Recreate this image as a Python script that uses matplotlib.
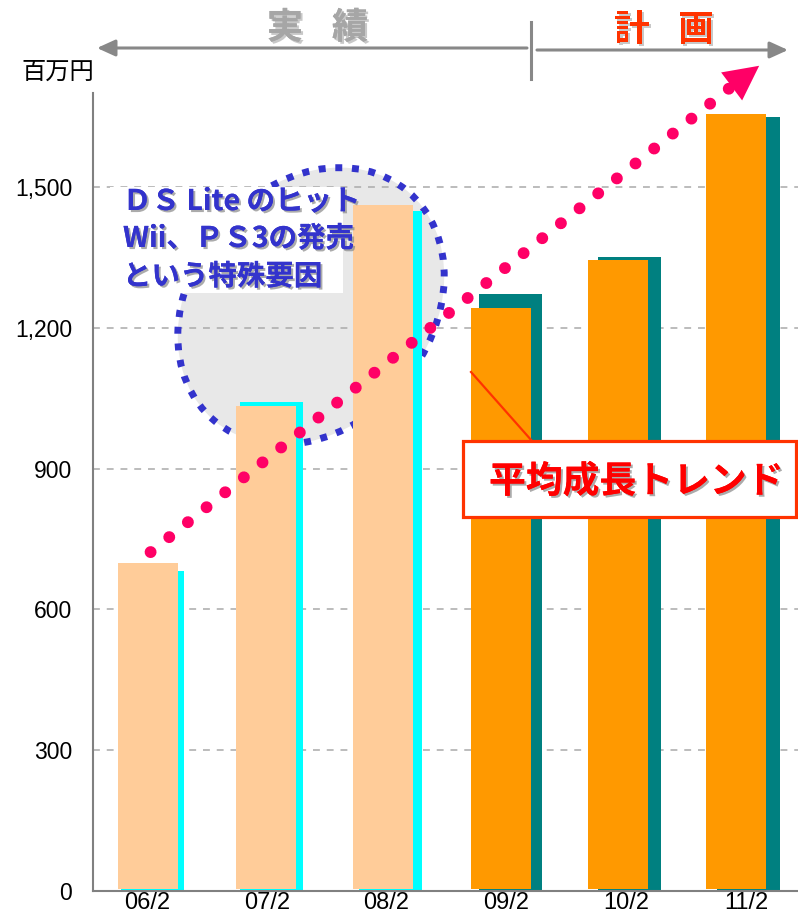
import matplotlib
matplotlib.use('Agg')
import matplotlib.pyplot as plt
import numpy as np
from matplotlib import patches, patheffects, font_manager as fm
from matplotlib.lines import Line2D
from matplotlib.transforms import IdentityTransform

# ---------------- data ----------------
categories = ['06/2', '07/2', '08/2', '09/2', '10/2', '11/2']
front_values = [699, 1034, 1462, 1242, 1345, 1656]
back_values = [682, 1042, 1449, 1272, 1351, 1649]
is_actual = [True, True, True, False, False, False]
yticks = [0, 300, 600, 900, 1200, 1500]
ytick_labels = ['0', '300', '600', '900', '1,200', '1,500']
trend_start = (0.03, 722)
trend_end = (4.88, 1714)
trend_tip = (5.11, 1758)

# ---------------- style ----------------
W, H = 798, 916
names = {f.name for f in fm.fontManager.ttflist}
if 'Liberation Sans Narrow' in names:
    num_font, xsize, ysize = 'Liberation Sans Narrow', 19, 19
else:
    num_font, xsize, ysize = 'Liberation Sans', 17, 16.5
JP = ['Noto Sans CJK JP', 'DejaVu Sans']

peach, cyan, orange, teal = '#FFCC99', '#00FFFF', '#FF9900', '#008080'

fig = plt.figure(figsize=(W / 100, H / 100), dpi=100)
ax = fig.add_axes([93 / W, 25 / H, 705 / W, 798 / H])
px_unit = 119.8
ax.set_xlim((93 - 147) / px_unit, (798 - 147) / px_unit)
ax.set_ylim(0, 1700)

# bars
for i, (fv, bv, act) in enumerate(zip(front_values, back_values, is_actual)):
    back_off = (5.5 - 0.6 * i) / px_unit
    front_off = (1.0 - 2.2 * i) / px_unit
    ax.bar(i + back_off, bv, width=63 / px_unit, color=cyan if act else teal,
           zorder=2, linewidth=0)
    ax.bar(i + front_off, fv - 5, bottom=5, width=60 / px_unit,
           color=peach if act else orange, zorder=2.1, linewidth=0)

# grid
for y in yticks[1:]:
    ax.axhline(y, color='#aaaaaa', lw=1.1, ls=(0, (4.5, 4.5)), zorder=1)

# spines / ticks
for s in ['top', 'right']:
    ax.spines[s].set_visible(False)
for s in ['left', 'bottom']:
    ax.spines[s].set_color('#808080')
    ax.spines[s].set_linewidth(1.5)
ax.set_xticks(range(len(categories)))
ax.set_xticklabels(categories, fontfamily=num_font, fontsize=xsize)
ax.set_yticks(yticks)
ax.set_yticklabels(ytick_labels, fontfamily=num_font, fontsize=ysize)
ax.tick_params(axis='x', length=0, pad=1)
ax.tick_params(axis='y', length=0, pad=15)


def disp(x, y):
    return (x, H - y)


# gray blob with dotted outline (display pixels)
blob_fill = patches.Ellipse(disp(311, 306), 300, 240, angle=50,
                            transform=IdentityTransform(), facecolor='#E8E8E8',
                            edgecolor='none', zorder=0.5)
ax.add_artist(blob_fill)
blob_edge = patches.Ellipse(disp(311, 306), 300, 240, angle=50,
                            transform=IdentityTransform(), facecolor='none',
                            edgecolor='#3333CC', lw=5, ls=(0, (1, 1.4)),
                            zorder=1.5)
ax.add_artist(blob_edge)

# trend dotted line
ax.plot([trend_start[0], trend_end[0]], [trend_start[1], trend_end[1]],
        color='#FF0066', lw=8.6, ls=(0, (0.001, 2.0)),
        dash_capstyle='round', clip_on=False, zorder=5)
fig.canvas.draw()
tip = ax.transData.transform(trend_tip)
base = ax.transData.transform(trend_end)
d = tip - base
n = np.array((-d[1], d[0]))
n = n / np.hypot(*n)
hw = 17.5
tri = patches.Polygon([tip, base + n * hw, base - n * hw], closed=True,
                      transform=IdentityTransform(), facecolor='#FF0066',
                      edgecolor='none', zorder=5)
tri.set_clip_on(False)
ax.add_artist(tri)

# white text box with blue text
sh = [patheffects.withSimplePatchShadow(offset=(1.5, -1.5),
                                        shadow_rgbFace='#888888', alpha=0.7),
      patheffects.Normal()]
box = patches.Rectangle(disp(110, 293), 233, 106, transform=IdentityTransform(),
                        facecolor='white', edgecolor='none', zorder=3)
ax.add_artist(box)
lines = ['ＤＳ Lite のヒット', 'Wii、ＰＳ3の発売', 'という特殊要因']
for txt, yy in zip(lines, [202, 239, 277]):
    fig.text(123, H - yy, txt, transform=IdentityTransform(), ha='left',
             va='center', fontsize=20.5, fontweight='bold', color='#3333CC',
             family=JP, path_effects=sh, zorder=6)

# red box
ax.add_artist(Line2D([471, 532], [H - 372, H - 441], transform=IdentityTransform(),
                     color='#FF3300', lw=1.6, zorder=4))
rbox = patches.Rectangle(disp(463, 517), 333, 76, transform=IdentityTransform(),
                         facecolor='white', edgecolor='#FF3300', lw=2.3, zorder=4)
rbox.set_clip_on(False)
ax.add_artist(rbox)
fig.text(636, H - 482, '平均成長トレンド', transform=IdentityTransform(),
         ha='center', va='center', fontsize=26.5, fontweight='bold',
         color='#FF0000', family=JP, path_effects=sh, zorder=7)

# unit
fig.text(58, H - 72, '百万円', transform=IdentityTransform(), ha='center',
         va='center', fontsize=17.5, color='black', family=JP)

# top arrows
arrow_c = '#888888'
fig.add_artist(patches.FancyArrowPatch(disp(527, 48), disp(97, 48),
               transform=IdentityTransform(),
               arrowstyle='-|>,head_length=1.1,head_width=0.5', mutation_scale=10,
               color=arrow_c, lw=2.2, shrinkA=0, shrinkB=0))
fig.add_artist(patches.FancyArrowPatch(disp(537, 50), disp(788, 50),
               transform=IdentityTransform(),
               arrowstyle='-|>,head_length=1.1,head_width=0.5', mutation_scale=10,
               color=arrow_c, lw=2.2, shrinkA=0, shrinkB=0))
fig.add_artist(Line2D([531, 531], [H - 22, H - 79], transform=IdentityTransform(),
                      color=arrow_c, lw=2.2))
sh2 = [patheffects.withSimplePatchShadow(offset=(1.5, -1.5),
                                         shadow_rgbFace='#BBBBBB', alpha=0.8),
       patheffects.Normal()]
for ch, xx in [('実', 285), ('績', 350)]:
    fig.text(xx, H - 28, ch, transform=IdentityTransform(), ha='center',
             va='center', fontsize=26, fontweight='bold', color='#A6A6A6',
             family=JP, path_effects=sh2)
for ch, xx in [('計', 632), ('画', 696)]:
    fig.text(xx, H - 30, ch, transform=IdentityTransform(), ha='center',
             va='center', fontsize=26, fontweight='bold', color='#FF3300',
             family=JP, path_effects=sh2)

fig.savefig('out.png', dpi=100)
